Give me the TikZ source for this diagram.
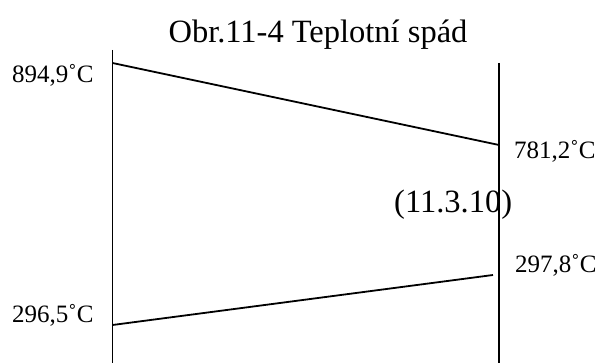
\documentclass[tikz,border=0pt]{standalone}
\usepackage{fontspec}
\setmainfont{Liberation Serif}
\usetikzlibrary{positioning}

\begin{document}
\begin{tikzpicture}[
  x=1pt,y=-1pt,
  wall/.style={line width=1.8pt,draw=black},
  grad/.style={line width=1.8pt,draw=black},
  temp/.style={inner sep=0pt,font=\fontsize{25}{30}\selectfont},
  big/.style={inner sep=0pt,font=\fontsize{32.5}{38}\selectfont}]
\useasboundingbox (0,0) rectangle (600,363);
% walls
\coordinate (wl1) at (112.5,50);
\coordinate (wl2) at (112.5,363);
\coordinate (wr1) at (499,63);
\coordinate (wr2) at (499,363);
% temperature lines
\coordinate (hot1) at (112.5,63);
\coordinate (hot2) at (499,145);
\coordinate (cold1) at (112.5,325);
\coordinate (cold2) at (493,275);
\draw[wall] (wl1) -- (wl2);
\draw[wall] (wr1) -- (wr2);
\draw[grad] (hot1) -- (hot2);
\draw[grad] (cold1) -- (cold2);
% labels
\node[big,anchor=base] (title) at (318,43) {Obr.11-4 Teplotní spád};
\node[temp,anchor=base west] (thot1) at (12,83) {894,9˚C};
\node[temp,anchor=base west] (thot2) at (514,159) {781,2˚C};
\node[big,anchor=base west] (eq) at (394,213) {(11.3.10)};
\node[temp,anchor=base west] (tcold2) at (515,273) {297,8˚C};
\node[temp,anchor=base west] (tcold1) at (12,323) {296,5˚C};
\end{tikzpicture}
\end{document}
